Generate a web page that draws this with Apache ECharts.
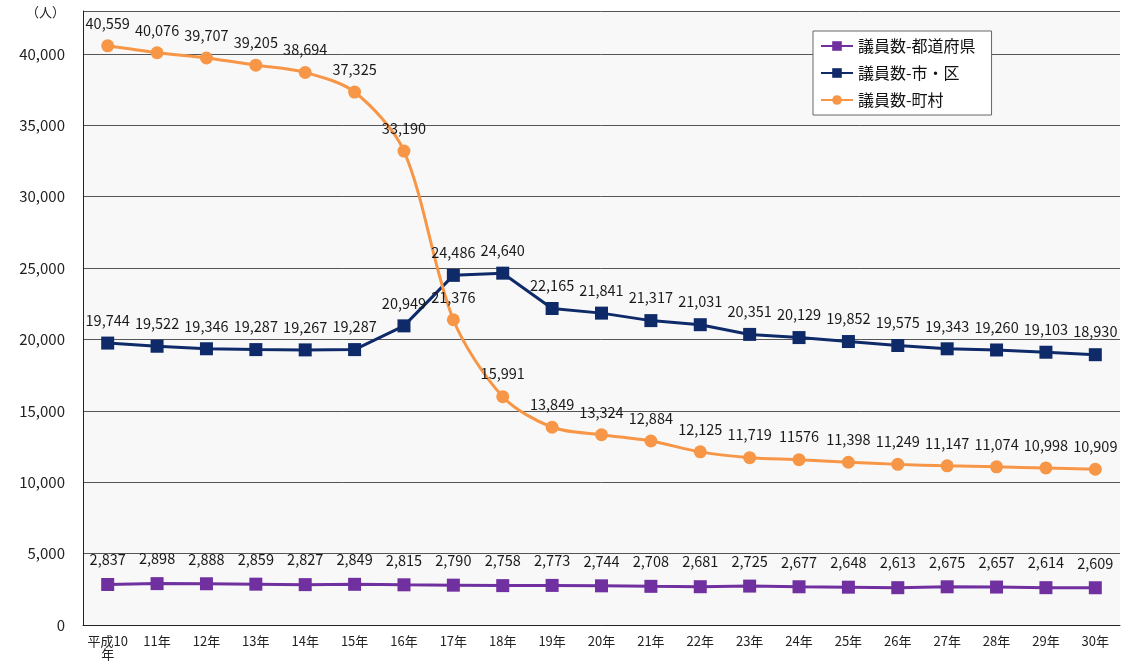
<!DOCTYPE html>
<html>
<head>
<meta charset="utf-8">
<script src="https://cdn.jsdelivr.net/npm/echarts@6/dist/echarts.min.js"></script>
<style>
html,body{margin:0;padding:0;background:#fff;}
#chart{width:1135px;height:667px;}
</style>
</head>
<body>
<div id="chart"></div>
<script>
// 年次
const years = ['平成10年','11年','12年','13年','14年','15年','16年','17年','18年','19年','20年',
  '21年','22年','23年','24年','25年','26年','27年','28年','29年','30年'];
// 議員数
const prefecture = [2837,2898,2888,2859,2827,2849,2815,2790,2758,2773,2744,2708,2681,2725,2677,2648,2613,2675,2657,2614,2609];
const cityWard = [19744,19522,19346,19287,19267,19287,20949,24486,24640,22165,21841,21317,21031,20351,20129,19852,19575,19343,19260,19103,18930];
const townVillage = [40559,40076,39707,39205,38694,37325,33190,21376,15991,13849,13324,12884,12125,11719,11576,11398,11249,11147,11074,10998,10909];
const yTicks = [0,5000,10000,15000,20000,25000,30000,35000,40000];

const fmt = v => v.toLocaleString('en-US');
const labelFont = {fontSize: 14.5, color: '#1a1a1a', fontFamily: 'Noto Sans CJK JP'};

// 元図は24年だけカンマ無し
const townData = townVillage.map((v, i) => {
  const item = {value: v};
  if (i === 14) item.label = {formatter: String(v)};
  return item;
});

const chart = echarts.init(document.getElementById('chart'));
chart.setOption({
  animation: false,
  textStyle: {fontFamily: 'Noto Sans CJK JP'},
  grid: {left: 83, right: 15, top: 11, bottom: 42, show: true, backgroundColor: '#f8f8f8', borderWidth: 0},
  legend: {
    orient: 'vertical', left: 813, top: 31,
    backgroundColor: '#fff', borderColor: '#666', borderWidth: 1,
    padding: [7, 16, 7, 7], itemGap: 11, itemWidth: 32, itemHeight: 12,
    textStyle: {fontSize: 16, color: '#111'},
    data: ['議員数-都道府県', '議員数-市・区', '議員数-町村']
  },
  xAxis: {
    type: 'category', data: years, boundaryGap: true,
    axisLine: {lineStyle: {color: '#222', width: 1}},
    axisTick: {inside: true, length: 5, lineStyle: {color: '#222'}},
    axisLabel: {fontSize: 13, color: '#222', margin: 10, width: 48, overflow: 'break', interval: 0}
  },
  yAxis: {
    type: 'value', min: 0, max: 43000, interval: 5000,
    name: '（人）', nameLocation: 'end', nameGap: 0,
    nameTextStyle: {fontSize: 13, color: '#222', align: 'right', verticalAlign: 'top', padding: [-5, 18, 0, 0]},
    axisLine: {show: true, lineStyle: {color: '#222'}},
    axisTick: {show: false},
    axisLabel: {fontSize: 15, color: '#222', margin: 18,
      formatter: v => yTicks.includes(v) ? fmt(v) : ''},
    splitLine: {lineStyle: {color: '#555', width: 1}}
  },
  series: [
    {
      name: '議員数-都道府県', type: 'line', data: prefecture,
      symbol: 'rect', symbolSize: 13, itemStyle: {color: '#7030A0'},
      lineStyle: {width: 3, color: '#7030A0'},
      label: {show: true, position: 'top', distance: 11, formatter: p => fmt(p.value), ...labelFont}
    },
    {
      name: '議員数-市・区', type: 'line', data: cityWard,
      symbol: 'rect', symbolSize: 13, itemStyle: {color: '#0f2a69'},
      lineStyle: {width: 3, color: '#0f2a69'},
      label: {show: true, position: 'top', distance: 9, formatter: p => fmt(p.value), ...labelFont}
    },
    {
      name: '議員数-町村', type: 'line', data: townData, smooth: 0.3,
      symbol: 'circle', symbolSize: 13, itemStyle: {color: '#F79646'},
      lineStyle: {width: 3, color: '#F79646'},
      label: {show: true, position: 'top', distance: 9, formatter: p => fmt(p.value), ...labelFont}
    }
  ]
});
</script>
</body>
</html>
